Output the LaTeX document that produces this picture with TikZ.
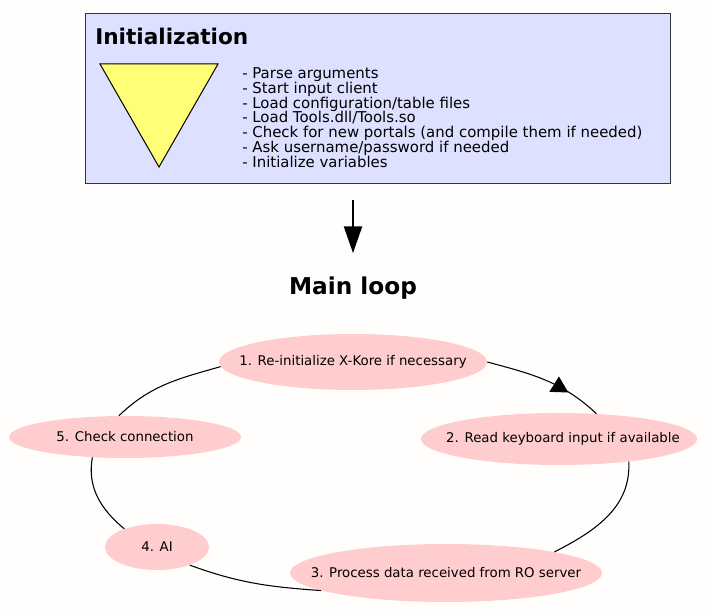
\documentclass[tikz,border=0pt]{standalone}
\usepackage{fontspec}
\setmainfont{DejaVu Sans}
\usetikzlibrary{shapes.geometric,arrows.meta}

\definecolor{pagebg}{RGB}{255,254,252}
\definecolor{initblue}{RGB}{221,224,255}
\definecolor{triyellow}{RGB}{255,255,119}
\definecolor{stagepink}{RGB}{255,205,205}

\begin{document}
\begin{tikzpicture}[x=0.75pt,y=0.75pt,
    stage/.style={ellipse,fill=stagepink,inner sep=0pt,font=\fontsize{10}{12}\selectfont},
    link/.style={line width=0.8pt},
    flow/.style={line width=1.5pt,-{Triangle[length=20pt,width=13.5pt]}}]
%set diagram to 708 x 615
\fill [pagebg] (0,0) rectangle (708,615);
\useasboundingbox (0,0) rectangle (708,615);

%Shape: Rectangle [init]
\node [draw=black!80,fill=initblue,line width=0.6pt,minimum width=438.75pt,minimum height=127.5pt,inner sep=0pt] (init) at (377.5,517) {};
%Shape: Triangle
\draw [fill=triyellow,line width=0.75pt] (100,551) -- (218,551) -- (159,448) -- cycle ;

% Text Node
\node [anchor=base west,inner sep=0pt,font=\fontsize{16.2}{18}\bfseries] (inittitle) at (95,570) {Initialization};
% Text Node
\node [anchor=north west,inner sep=0pt,align=left,font=\fontsize{11.2}{11.2}\selectfont] (steps) at (242,548)
  {- Parse arguments\\
   - Start input client\\
   - Load configuration/table files\\
   - Load Tools.dll/Tools.so\\
   - Check for new portals (and compile them if needed)\\
   - Ask username/password if needed\\
   - Initialize variables};
% Text Node
\node [anchor=base,inner sep=0pt,font=\fontsize{17.4}{19}\bfseries] (mainloop) at (353,320) {Main loop};

%Straight Lines
\draw [flow,shorten <=12.75pt,shorten >=18pt] (init.south -| mainloop.north) -- (mainloop.north) ;

%Shape: Ellipse
\node [stage,minimum width=201pt,minimum height=42pt] (reinit) at (353,253) {\makebox[0pt]{1. Re-initialize X-Kore if necessary}};
\node [stage,minimum width=207pt,minimum height=39pt] (keyboard) at (559,176) {\makebox[0pt]{\hspace*{6pt}2. Read keyboard input if available}};
\node [stage,minimum width=234pt,minimum height=43.5pt] (process) at (446,42) {\makebox[0pt]{3. Process data received from RO server}};
\node [stage,minimum width=78pt,minimum height=34.5pt] (ai) at (157,68) {\makebox[0pt]{4. AI}};
\node [stage,minimum width=174pt,minimum height=31.5pt] (check) at (125,178) {\makebox[0pt]{5. Check connection}};

%Curve Lines
\draw [link] (reinit.east) to[out=-15,in=137] coordinate[pos=0.62] (mark12) (keyboard.34) ;
\fill ([shift={(0.7,9.7)}]mark12) -- ([shift={(-9,-5.7)}]mark12) -- ([shift={(10,-6.3)}]mark12) -- cycle ;
\draw [link] (keyboard.-18) to[out=-87,in=27] (process.11) ;
\draw [link] (process.188) to[out=176,in=-20] (ai.-29) ;
\draw [link] (ai.151) to[out=140,in=-100] (check.212) ;
\draw [link] (check.106) to[out=44,in=196] (reinit.182) ;

\end{tikzpicture}
\end{document}
